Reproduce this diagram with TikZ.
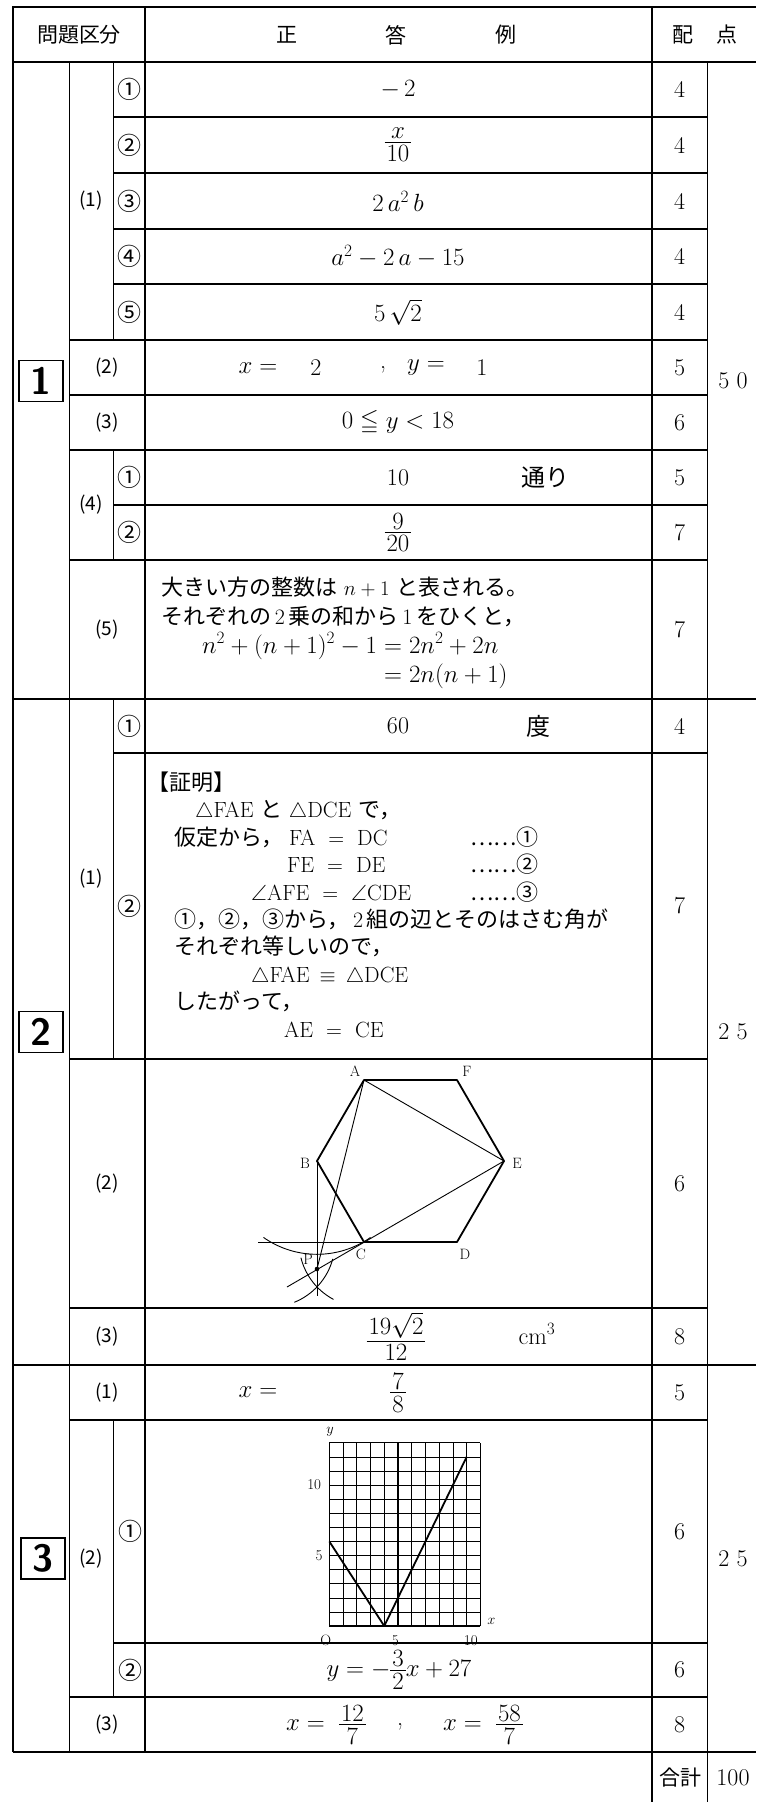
\documentclass[tikz,border=0pt]{standalone}
\usepackage{amsmath,amssymb}
\usepackage{fontspec}
\usetikzlibrary{positioning}
\newfontfamily\jp{Noto Sans CJK JP}
\newcommand{\jt}[1]{{\jp #1}}
% tight fraction
\newcommand{\tfr}[2]{\vcenter{\baselineskip=0pt\lineskip=0pt\lineskiplimit=0pt
  \halign{\hfil\kern2pt$##$\kern2pt\hfil\cr#1\cr\noalign{\kern3pt\hrule height 0.9pt\kern3pt}#2\cr}}}
\tikzset{
  thk/.style={line width=2pt},
  mid/.style={line width=1.5pt},
  thn/.style={line width=0.9pt},
  txt/.style={inner sep=0pt, font=\fontsize{24}{28}\selectfont},
  hdr/.style={inner sep=0pt, font=\fontsize{21}{24}\selectfont\jp},
  lbl/.style={inner sep=0pt, font=\fontsize{19}{22}\selectfont\jp},
  circ/.style={inner sep=0pt, font=\fontsize{24}{26}\selectfont\jp},
  ln/.style={inner sep=0pt, anchor=base west, font=\fontsize{22}{26}\selectfont},
  eqn/.style={ln, font=\fontsize{24}{28}\selectfont},
  secbox/.style={draw, line width=1.3pt, minimum width=44pt, minimum height=41pt, inner sep=0pt, font=\fontsize{38}{38}\selectfont\sffamily\bfseries},
  hexe/.style={line width=1.8pt, line join=round},
  ptl/.style={inner sep=0pt, font=\fontsize{15}{17}\selectfont},
}
\begin{document}
\begin{tikzpicture}[x=1pt,y=-1pt]
\useasboundingbox (0,0) rectangle (756,1802);
% frame
\draw[thk] (13,1752) -- (13,7) -- (756,7);
\draw[thk] (13,62) -- (756,62);
\draw[thk] (13,699) -- (756,699);
\draw[thk] (13,1365) -- (756,1365);
\draw[thk] (13,1752) -- (756,1752);
\draw[thk] (145,7) -- (145,1752);
\draw[thk] (652,7) -- (652,1802);
\draw[thn] (707,62) -- (707,1802);
\draw[thn] (69,62) -- (69,1752);
% section 1 rows
\draw[mid] (113,117) -- (707,117);
\draw[mid] (113,173) -- (707,173);
\draw[mid] (113,229) -- (707,229);
\draw[mid] (113,284) -- (707,284);
\draw[mid] (69,340) -- (707,340);
\draw[mid] (69,395) -- (707,395);
\draw[mid] (69,450) -- (707,450);
\draw[mid] (113,505) -- (707,505);
\draw[mid] (69,560) -- (707,560);
\draw[thn] (113,62) -- (113,340);
\draw[thn] (113,450) -- (113,560);
% section 2 rows
\draw[mid] (113,753) -- (707,753);
\draw[mid] (69,1059) -- (707,1059);
\draw[mid] (69,1308) -- (707,1308);
\draw[thn] (113,699) -- (113,1059);
% section 3 rows
\draw[mid] (69,1420) -- (707,1420);
\draw[mid] (113,1643) -- (707,1643);
\draw[mid] (69,1697) -- (707,1697);
\draw[thn] (113,1420) -- (113,1697);

% header
\node[hdr] (h1) at (79,35) {問題区分};
\node[hdr] (h2) at (287,35) {正};
\node[hdr] (h3) at (396,35) {答};
\node[hdr] (h4) at (506,35) {例};
\node[hdr] (h5) at (683,35) {配};
\node[hdr] (h6) at (727,35) {点};

% section 1
\node[secbox] (sec1) at (41,381) {1};
\node[lbl] (l11) at (91,201) {(1)};
\node[circ] (c111) at (129,89.5) {①};
\node[circ] (c112) at (129,145) {②};
\node[circ] (c113) at (129,201) {③};
\node[circ] (c114) at (129,256.5) {④};
\node[circ] (c115) at (129,312) {⑤};
\node[lbl] (l12) at (107,368) {(2)};
\node[lbl] (l13) at (107,422.5) {(3)};
\node[lbl] (l14) at (91,505) {(4)};
\node[circ] (c141) at (129,477.5) {①};
\node[circ] (c142) at (129,532.5) {②};
\node[lbl] (l15) at (107,629.5) {(5)};
\node[txt] (a111) at (398,89.5) {$-\,2$};
\node[txt] (a112) at (398,145) {$\tfr{x}{10}$};
\node[txt] (a113) at (398,201) {$2\,a^2\,b$};
\node[txt] (a114) at (398,256.5) {$a^2-2\,a-15$};
\node[txt] (a115) at (398,312) {$5\,\sqrt{2}$};
\node[txt] (a12x) at (258,368) {$x=$};
\node[txt] (a12a) at (316,368) {2};
\node[txt] (a12c) at (383,370) {,};
\node[txt] (a12y) at (426,368) {$y=$};
\node[txt] (a12b) at (482,368) {1};
\node[txt] (a13) at (398,422.5) {$0\leqq y<18$};
\node[txt] (a141) at (398,477.5) {10};
\node[txt] (a141u) at (545,477.5) {\jt{通り}};
\node[txt] (a142) at (398,532.5) {$\tfr{9}{20}$};
\node[ln] (a15a) at (161,595) {\jt{大きい方の整数は} $n+1$ \jt{と表される。}};
\node[ln] (a15b) at (161,624) {\jt{それぞれの}\,2\,\jt{乗の和から}\,1\,\jt{をひくと，}};
\node[eqn] (a15c) at (202,653) {$n^2+(n+1)^2-1$};
\node[eqn, right=0pt of a15c.base east, anchor=base west] (a15d) {${}=2n^2+2n$};
\node[eqn, yshift=-29pt] (a15e) at (a15d.base west) {${}=2n(n+1)$};
\node[txt] (p111) at (679.5,89.5) {4};
\node[txt] (p112) at (679.5,145) {4};
\node[txt] (p113) at (679.5,201) {4};
\node[txt] (p114) at (679.5,256.5) {4};
\node[txt] (p115) at (679.5,312) {4};
\node[txt] (p12) at (679.5,368) {5};
\node[txt] (p13) at (679.5,422.5) {6};
\node[txt] (p141) at (679.5,477.5) {5};
\node[txt] (p142) at (679.5,532.5) {7};
\node[txt] (p15) at (679.5,629.5) {7};
\node[txt] (t1) at (733,381) {5 0};

% section 2
\node[secbox] (sec2) at (41,1032) {2};
\node[lbl] (l21) at (91,879) {(1)};
\node[circ] (c211) at (129,726) {①};
\node[circ] (c212) at (129,906) {②};
\node[lbl] (l22) at (107,1183.5) {(2)};
\node[lbl] (l23) at (107,1336.5) {(3)};
\node[txt] (a211) at (398,726) {60};
\node[txt] (a211u) at (538,726) {\jt{度}};
\node[ln] (pr0) at (147,790) {\jt{【証明】}};
\node[ln] (pr1) at (195,817.5) {$\triangle$FAE \jt{と} $\triangle$DCE \jt{で，}};
\node[ln] (pr2) at (174,845) {\jt{仮定から，}};
\node[ln] (pr2b) at (289,845) {FA\hspace{13pt}=\hspace{13pt}DC};
\node[ln] (pr2c) at (470,845) {\jt{……①}};
\node[ln] (pr3) at (287,872.5) {FE\hspace{13pt}=\hspace{13pt}DE};
\node[ln] (pr3c) at (470,872.5) {\jt{……②}};
\node[ln] (pr4) at (251,900) {$\angle$AFE\hspace{13pt}=\hspace{13pt}$\angle$CDE};
\node[ln] (pr4c) at (470,900) {\jt{……③}};
\node[ln] (pr5) at (174,927) {\jt{①，②，③から，}\,2\,\jt{組の辺とそのはさむ角が}};
\node[ln] (pr6) at (174,954.5) {\jt{それぞれ等しいので，}};
\node[ln] (pr7) at (251,982) {$\triangle$FAE\hspace{10pt}$\equiv$\hspace{10pt}$\triangle$DCE};
\node[ln] (pr8) at (174,1009.5) {\jt{したがって，}};
\node[ln] (pr9) at (284,1037) {AE\hspace{13pt}=\hspace{13pt}CE};
% hexagon figure
\coordinate (hA) at (364,1080);
\coordinate (hF) at (457,1080);
\coordinate (hE) at (504,1161);
\coordinate (hD) at (457,1242);
\coordinate (hC) at (364,1242);
\coordinate (hB) at (317,1161);
\coordinate (hP) at (317,1269);
\coordinate (hCc) at (270,1242);
\coordinate (hCx) at (258,1242);
\coordinate (hEx) at (287,1287);
\coordinate (hBx) at (317,1296);
\draw[hexe] (hA) -- (hF) -- (hE) -- (hD) -- (hC) -- (hB) -- cycle;
\draw[thn] (hA) -- (hE);
\draw[thn] (hA) -- (hP);
\draw[thn] (hE) -- (hEx);
\draw[thn] (hB) -- (hBx);
\draw[thn] (hCx) -- (hC);
\draw[thn] (hB) ++(55:93.3) arc[start angle=55, end angle=125, radius=93.3];
\draw[thn] (hC) ++(118:65) arc[start angle=118, end angle=166, radius=65];
\draw[thn] (hCc) ++(15:65) arc[start angle=15, end angle=68, radius=65];
\fill (hP) circle (2.3);
\node[ptl] (nA) at (355,1071) {A};
\node[ptl] (nF) at (467,1071) {F};
\node[ptl] (nE) at (517,1163) {E};
\node[ptl] (nD) at (465,1254) {D};
\node[ptl] (nC) at (361,1254) {C};
\node[ptl] (nB) at (305,1163) {B};
\node[ptl] (nP) at (308,1259) {P};
\node[txt] (a23) at (396,1336.5) {$\tfr{19\sqrt{2}}{12}$};
\node[txt] (a23u) at (537,1334) {cm$^3$};
\node[txt] (p211) at (679.5,726) {4};
\node[txt] (p212) at (679.5,906) {7};
\node[txt] (p22) at (679.5,1183.5) {6};
\node[txt] (p23) at (679.5,1336.5) {8};
\node[txt] (t2) at (733,1032) {2 5};

% section 3
\node[secbox] (sec3) at (43,1558.5) {3};
\node[lbl] (l31) at (107,1392.5) {(1)};
\node[lbl] (l32) at (91,1558.5) {(2)};
\node[circ] (c321) at (130,1531.5) {①};
\node[circ] (c322) at (130,1670) {②};
\node[lbl] (l33) at (107,1724.5) {(3)};
\node[txt] (a31x) at (258,1392.5) {$x=$};
\node[txt] (a31) at (398,1392.5) {$\tfr{7}{8}$};
% graph
\begin{scope}[shift={(329.3,1626)}, x=13.74pt, y=14.1pt]
\draw[line width=0.6pt, step=1] (0,0) grid (11,13);
\draw[line width=1.1pt] (5,0) -- (5,13);
\draw[line width=1.1pt] (10,0) -- (10,13);
\draw[line width=1.2pt] (0,13) -- (0,0) -- (11,0);
\draw[line width=1.8pt, line join=round] (0,6) -- (4,0) -- (10,12);
\node[ptl] (gy) at (0.05,13.8) {$y$};
\node[ptl] (gx) at (11.8,0.3) {$x$};
\node[ptl] (gO) at (-0.25,-1.05) {O};
\node[ptl] (gy10) at (-1.1,10) {10};
\node[ptl] (gy5) at (-0.75,5) {5};
\node[ptl] (gx5) at (4.8,-1.05) {5};
\node[ptl] (gx10) at (10.3,-1.05) {10};
\end{scope}
\node[txt] (a322) at (399,1670) {$y=-\tfr{3}{2}x+27$};
\node[txt] (a33a) at (326,1724.5) {$x=\ \tfr{12}{7}$};
\node[txt] (a33c) at (400,1727) {,};
\node[txt] (a33b) at (483,1724.5) {$x=\ \tfr{58}{7}$};
\node[txt] (p31) at (679.5,1392.5) {5};
\node[txt] (p321) at (679.5,1531.5) {6};
\node[txt] (p322) at (679.5,1670) {6};
\node[txt] (p33) at (679.5,1724.5) {8};
\node[txt] (t3) at (733,1558.5) {2 5};
% total
\node[hdr] (tot) at (680,1778) {合計};
\node[txt] (totv) at (733,1778) {100};
\end{tikzpicture}
\end{document}
